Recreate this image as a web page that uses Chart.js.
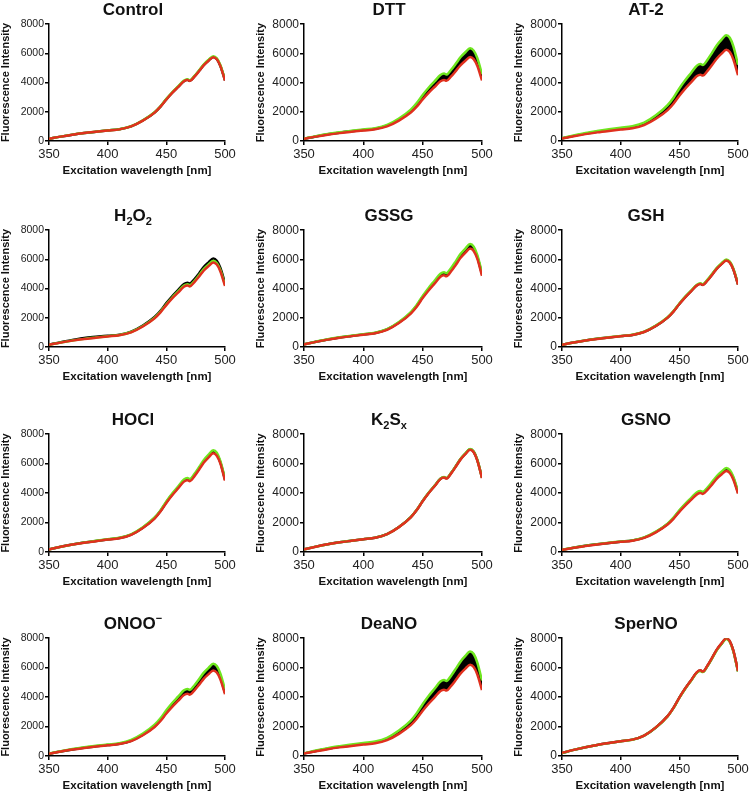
<!DOCTYPE html>
<html>
<head>
<meta charset="utf-8">
<script src="https://cdn.jsdelivr.net/npm/chart.js@4"></script>
<style>
  html, body { margin: 0; padding: 0; background: #fff; }
  #wrap { position: relative; width: 749px; height: 792px; overflow: hidden; }
  #wrap canvas { position: absolute; }
  .ttl { position: absolute; font-family: "Liberation Sans", Arial, sans-serif; font-weight: bold;
         font-size: 17px; line-height: 17px; color: #111; white-space: nowrap; transform: translateX(-50%); }
  .ttl sub, .ttl sup { font-size: 11px; line-height: 0; }
</style>
</head>
<body>
<div id="wrap"></div>
<script>
// excitation wavelengths (nm)
const waves = [350, 360, 370, 380, 390, 400, 410, 420, 430, 440, 445, 450, 455, 460, 465, 468, 470, 474, 478, 482, 486, 490, 493, 496, 500];

const controlGreen = [150, 300, 435, 545, 640, 725, 810, 1010, 1410, 1970, 2370, 2880, 3330, 3730, 4130, 4220, 4160, 4450, 4840, 5250, 5550, 5800, 5660, 5200, 4190];
const controlBlack = [150, 300, 430, 540, 630, 720, 800, 1000, 1400, 1950, 2350, 2850, 3300, 3700, 4090, 4180, 4120, 4420, 4800, 5200, 5500, 5750, 5610, 5150, 4150];
const controlRed   = [150, 300, 430, 540, 630, 715, 795, 995, 1390, 1940, 2345, 2840, 3290, 3685, 4080, 4165, 4110, 4400, 4785, 5185, 5485, 5730, 5585, 5135, 4135];

const dttGreen = [165, 330, 475, 600, 700, 795, 880, 1100, 1540, 2150, 2600, 3150, 3645, 4080, 4520, 4620, 4550, 4880, 5300, 5750, 6080, 6350, 6190, 5690, 4580];
const dttBlack = [155, 315, 455, 570, 665, 755, 840, 1050, 1470, 2050, 2475, 3000, 3470, 3890, 4310, 4400, 4340, 4650, 5050, 5480, 5790, 6050, 5900, 5420, 4370];
const dttRed   = [150, 300, 430, 540, 630, 720, 800, 1000, 1400, 1950, 2350, 2850, 3300, 3700, 4090, 4180, 4120, 4420, 4800, 5200, 5500, 5750, 5610, 5150, 4150];

const at2Green = [190, 375, 545, 680, 800, 905, 1010, 1260, 1760, 2460, 2965, 3600, 4160, 4660, 5160, 5270, 5200, 5570, 6050, 6560, 6940, 7250, 7070, 6500, 5230];
const at2Black = [175, 350, 505, 635, 745, 845, 940, 1175, 1640, 2290, 2760, 3350, 3875, 4340, 4805, 4910, 4840, 5185, 5635, 6110, 6460, 6750, 6580, 6050, 4875];
const at2Red   = [165, 325, 470, 590, 690, 780, 870, 1090, 1520, 2120, 2555, 3100, 3590, 4020, 4450, 4545, 4480, 4800, 5220, 5655, 5980, 6250, 6095, 5600, 4510];

const h2o2Green = [155, 305, 440, 555, 650, 740, 820, 1025, 1435, 2000, 2415, 2925, 3385, 3795, 4200, 4290, 4230, 4530, 4925, 5340, 5645, 5900, 5750, 5285, 4260];
const h2o2Black = [160, 330, 480, 620, 700, 770, 840, 1050, 1470, 2050, 2475, 3000, 3470, 3890, 4310, 4400, 4340, 4650, 5050, 5480, 5790, 6050, 5900, 5420, 4370];
const h2o2Red   = [150, 300, 435, 545, 635, 725, 805, 1005, 1405, 1960, 2365, 2865, 3320, 3715, 4115, 4200, 4145, 4440, 4825, 5230, 5530, 5780, 5635, 5180, 4175];

const gssgGreen = [185, 365, 530, 663, 775, 880, 980, 1225, 1715, 2390, 2885, 3495, 4045, 4535, 5020, 5125, 5055, 5415, 5885, 6380, 6745, 7050, 6875, 6315, 5090];
const gssgBlack = [180, 360, 515, 650, 760, 865, 960, 1200, 1675, 2340, 2820, 3420, 3960, 4435, 4915, 5015, 4945, 5300, 5760, 6245, 6605, 6900, 6725, 6180, 4980];
const gssgRed   = [175, 350, 505, 635, 745, 845, 940, 1175, 1640, 2290, 2760, 3350, 3875, 4340, 4805, 4910, 4840, 5185, 5635, 6110, 6460, 6750, 6580, 6050, 4875];

const gshGreen = [155, 310, 450, 565, 660, 750, 835, 1045, 1460, 2035, 2455, 2975, 3445, 3860, 4270, 4360, 4300, 4610, 5010, 5430, 5740, 6000, 5850, 5375, 4330];
const gshBlack = [155, 310, 445, 560, 655, 745, 825, 1035, 1445, 2015, 2435, 2950, 3415, 3825, 4235, 4325, 4265, 4570, 4970, 5385, 5695, 5950, 5800, 5330, 4295];
const gshRed   = [155, 310, 445, 555, 650, 740, 825, 1030, 1440, 2010, 2425, 2940, 3405, 3815, 4220, 4310, 4250, 4555, 4950, 5365, 5675, 5930, 5780, 5315, 4280];

const hoclGreen = [180, 360, 515, 650, 760, 865, 960, 1200, 1675, 2340, 2820, 3420, 3960, 4435, 4915, 5015, 4945, 5300, 5760, 6245, 6605, 6900, 6725, 6180, 4980];
const hoclBlack = [175, 355, 510, 640, 750, 850, 945, 1185, 1650, 2305, 2780, 3375, 3905, 4370, 4840, 4945, 4875, 5220, 5680, 6155, 6510, 6800, 6630, 6095, 4910];
const hoclRed   = [175, 350, 505, 630, 735, 840, 930, 1165, 1630, 2270, 2740, 3325, 3845, 4310, 4770, 4870, 4805, 5145, 5595, 6065, 6410, 6700, 6530, 6005, 4840];

const k2sxGreen = [180, 365, 525, 660, 770, 875, 975, 1220, 1700, 2375, 2865, 3470, 4020, 4500, 4985, 5090, 5020, 5375, 5845, 6335, 6700, 7000, 6825, 6270, 5055];
const k2sxBlack = [180, 365, 525, 655, 770, 870, 970, 1215, 1695, 2365, 2855, 3460, 4005, 4490, 4970, 5075, 5005, 5360, 5830, 6315, 6680, 6980, 6805, 6255, 5040];
const k2sxRed   = [180, 360, 520, 655, 765, 870, 965, 1210, 1690, 2355, 2845, 3445, 3990, 4470, 4950, 5055, 4985, 5340, 5805, 6290, 6650, 6950, 6775, 6225, 5020];

const gsnoGreen = [150, 295, 430, 535, 625, 715, 790, 990, 1385, 1930, 2330, 2830, 3270, 3665, 4060, 4145, 4085, 4380, 4760, 5160, 5455, 5700, 5560, 5105, 4115];
const gsnoBlack = [145, 290, 420, 525, 615, 700, 780, 975, 1360, 1900, 2290, 2780, 3215, 3600, 3985, 4070, 4015, 4300, 4675, 5070, 5360, 5600, 5460, 5020, 4045];
const gsnoRed   = [145, 285, 415, 515, 605, 690, 765, 955, 1335, 1865, 2250, 2730, 3155, 3535, 3915, 4000, 3945, 4225, 4590, 4980, 5265, 5500, 5365, 4930, 3970];

const onooGreen = [165, 325, 470, 590, 690, 780, 870, 1090, 1520, 2120, 2555, 3100, 3590, 4020, 4450, 4545, 4480, 4800, 5220, 5655, 5980, 6250, 6095, 5600, 4510];
const onooBlack = [155, 310, 445, 560, 655, 745, 825, 1035, 1445, 2015, 2435, 2950, 3415, 3825, 4235, 4325, 4265, 4570, 4970, 5385, 5695, 5950, 5800, 5330, 4295];
const onooRed   = [150, 300, 435, 545, 640, 725, 810, 1010, 1410, 1970, 2370, 2880, 3330, 3730, 4130, 4220, 4160, 4450, 4840, 5250, 5550, 5800, 5660, 5200, 4190];

const deanoGreen = [185, 370, 535, 665, 780, 890, 985, 1235, 1725, 2405, 2905, 3520, 4075, 4565, 5055, 5160, 5090, 5455, 5930, 6425, 6795, 7100, 6925, 6360, 5125];
const deanoBlack = [170, 345, 495, 620, 725, 825, 915, 1150, 1605, 2235, 2700, 3275, 3790, 4245, 4700, 4800, 4730, 5070, 5510, 5975, 6315, 6600, 6435, 5915, 4765];
const deanoRed   = [160, 320, 465, 585, 680, 775, 860, 1080, 1505, 2100, 2535, 3075, 3560, 3985, 4415, 4505, 4445, 4760, 5175, 5610, 5935, 6200, 6045, 5555, 4475];

const spernoGreen = [205, 415, 595, 745, 875, 995, 1105, 1385, 1930, 2695, 3250, 3945, 4565, 5110, 5660, 5780, 5700, 6105, 6640, 7195, 7610, 7950, 7750, 7125, 5740];
const spernoBlack = [205, 415, 600, 750, 880, 1000, 1110, 1390, 1940, 2705, 3265, 3960, 4580, 5135, 5680, 5800, 5720, 6130, 6665, 7220, 7635, 7980, 7780, 7150, 5760];
const spernoRed   = [210, 415, 600, 750, 880, 1000, 1110, 1390, 1945, 2710, 3270, 3970, 4590, 5145, 5695, 5815, 5735, 6145, 6680, 7240, 7655, 8000, 7800, 7170, 5775];

const titles = ['Control', 'DTT', 'AT-2', 'H<sub>2</sub>O<sub>2</sub>', 'GSSG', 'GSH',
                'HOCl', 'K<sub>2</sub>S<sub>x</sub>', 'GSNO', 'ONOO<sup>−</sup>', 'DeaNO', 'SperNO'];
const xTicks = [350, 400, 450, 500];
const yTicks = [0, 2000, 4000, 6000, 8000];

const panels = [
  [controlGreen, controlBlack, controlRed], [dttGreen, dttBlack, dttRed], [at2Green, at2Black, at2Red],
  [h2o2Green, h2o2Black, h2o2Red], [gssgGreen, gssgBlack, gssgRed], [gshGreen, gshBlack, gshRed],
  [hoclGreen, hoclBlack, hoclRed], [k2sxGreen, k2sxBlack, k2sxRed], [gsnoGreen, gsnoBlack, gsnoRed],
  [onooGreen, onooBlack, onooRed], [deanoGreen, deanoBlack, deanoRed], [spernoGreen, spernoBlack, spernoRed]
];

// plot box edges in page pixels
const colLeft = [49, 304, 562];
const colRight = [225, 482, 738];
const rowTop = [24, 230, 434, 638];
const rowBottom = [141, 347, 552, 756];

const FONT = '"Liberation Sans", Arial, sans-serif';
const GREEN = '#6ee61e';
const RED = '#e0301e';
const Y_W = 50, X_H = 37, PAD_T = 8, PAD_R = 14;

const wrap = document.getElementById('wrap');

function pts(arr) {
  return arr.map((v, i) => ({ x: waves[i], y: v }));
}

panels.forEach((p, i) => {
  const c = i % 3, r = Math.floor(i / 3);
  const L = colLeft[c], R = colRight[c], T = rowTop[r], B = rowBottom[r];

  const canvas = document.createElement('canvas');
  canvas.width = R - L + Y_W + PAD_R;
  canvas.height = B - T + PAD_T + X_H;
  canvas.style.left = (L - Y_W) + 'px';
  canvas.style.top = (T - PAD_T) + 'px';
  wrap.appendChild(canvas);

  const t = document.createElement('div');
  t.className = 'ttl';
  t.innerHTML = titles[i];
  t.style.left = ((L + R) / 2 - 4) + 'px';
  t.style.top = (T - 23) + 'px';
  wrap.appendChild(t);

  const line = (data, color) => ({
    data: pts(data), borderColor: color, borderWidth: 2.5, pointRadius: 0,
    cubicInterpolationMode: 'monotone', fill: false
  });

  new Chart(canvas, {
    type: 'line',
    data: {
      datasets: [
        line(p[2], RED),
        line(p[0], GREEN),
        line(p[1], '#000'),
        // black band between the green and red traces
        { data: pts(p[0]), borderWidth: 0, pointRadius: 0, cubicInterpolationMode: 'monotone',
          backgroundColor: '#000', fill: 0 }
      ]
    },
    options: {
      responsive: false,
      animation: false,
      layout: { padding: { top: PAD_T, right: PAD_R, left: 0, bottom: 0 } },
      plugins: { legend: { display: false }, tooltip: { enabled: false } },
      scales: {
        x: {
          type: 'linear', min: 350, max: 500,
          afterBuildTicks: s => { s.ticks = xTicks.map(v => ({ value: v })); },
          afterFit: s => { s.height = X_H; },
          grid: { drawOnChartArea: false, drawTicks: true, tickLength: 4, color: '#000', lineWidth: 1.5 },
          border: { color: '#000', width: 1.5 },
          ticks: { color: '#222', font: { family: FONT, size: 13 }, padding: 2, maxRotation: 0,
                   callback: v => String(v) },
          title: { display: true, text: 'Excitation wavelength [nm]', color: '#111',
                   font: { family: FONT, size: 11.5, weight: 'bold' }, padding: 0 }
        },
        y: {
          min: 0, max: 8000,
          afterBuildTicks: s => { s.ticks = yTicks.map(v => ({ value: v })); },
          afterFit: s => { s.width = Y_W; },
          grid: { drawOnChartArea: false, drawTicks: true, tickLength: 4, color: '#000', lineWidth: 1.5 },
          border: { color: '#000', width: 1.5 },
          ticks: { color: '#222', font: { family: FONT, size: c === 0 ? 10.5 : 12 }, padding: 1,
                   callback: v => String(v) },
          title: { display: true, text: 'Fluorescence Intensity', color: '#111',
                   font: { family: FONT, size: 11, weight: 'bold' }, padding: 0 }
        }
      }
    }
  });
});
</script>
</body>
</html>
